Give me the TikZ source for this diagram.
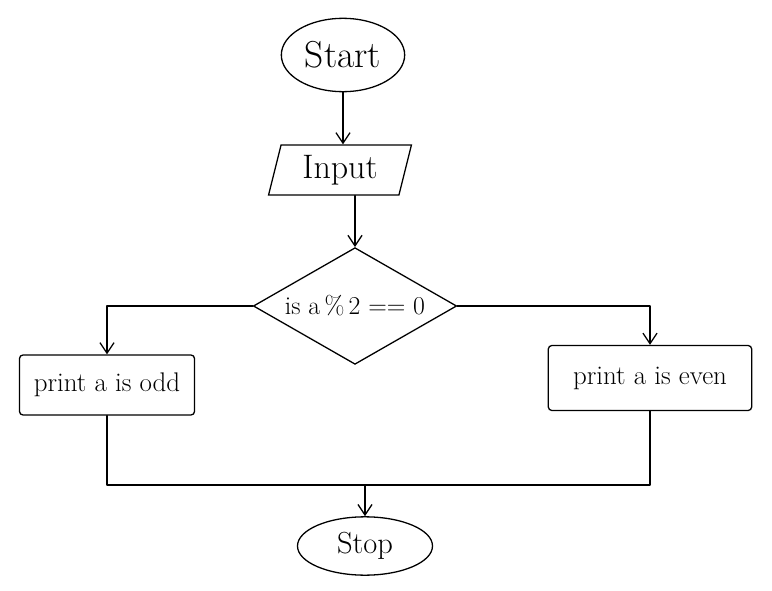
\documentclass[tikz,border=0pt]{standalone}
\usetikzlibrary{shapes.geometric,arrows.meta}
\begin{document}
\begin{tikzpicture}[x=0.03cm,y=-0.03cm,
  every node/.style={line width=1.1pt,draw=black,inner sep=0pt},
  flowline/.style={line width=1.1pt,line cap=round,line join=round},
  arr/.style={flowline,-{Straight Barb[length=9pt,width=12pt,line width=1.1pt]}},
  term/.style={ellipse},
  inbox/.style={trapezium,trapezium left angle=75,trapezium right angle=105,trapezium stretches=true},
  decide/.style={diamond,aspect=1.7,inner xsep=-22pt},
  outbox/.style={rectangle,rounded corners=3pt}]
\path[use as bounding box] (0,0) rectangle (772,591);
\node[term,minimum width=3.7cm,minimum height=2.2cm] (start) at (343,55) {\fontsize{32}{36}\selectfont Start};
\node[inbox,minimum width=4.3cm,minimum height=1.5cm] (input) at (340,170) {\fontsize{29}{33}\selectfont Input};
\node[decide,minimum width=6.1cm,minimum height=3.5cm] (dec) at (355,306) {\fontsize{22}{26}\selectfont is a\,\%\,2 == 0};
\node[outbox,minimum width=5.25cm,minimum height=1.8cm] (odd) at (107,385) {\fontsize{23}{27}\selectfont print a is odd};
\node[outbox,minimum width=6.1cm,minimum height=1.95cm] (even) at (650,378) {\fontsize{23}{27}\selectfont print a is even};
\node[term,minimum width=4.05cm,minimum height=1.75cm] (stop) at (365,546) {\fontsize{26}{30}\selectfont Stop};
\coordinate (merge) at (365,485);
\draw[arr] (start.south) -- (start.south |- input.north);
\draw[arr] (input.south -| dec.north) -- (dec.north);
\draw[arr] (dec.west) -| (odd.north);
\draw[arr] (dec.east) -| (even.north);
\draw[flowline] (odd.south) |- (merge) -| (even.south);
\draw[arr] (merge) -- (stop.north);
\end{tikzpicture}
\end{document}
